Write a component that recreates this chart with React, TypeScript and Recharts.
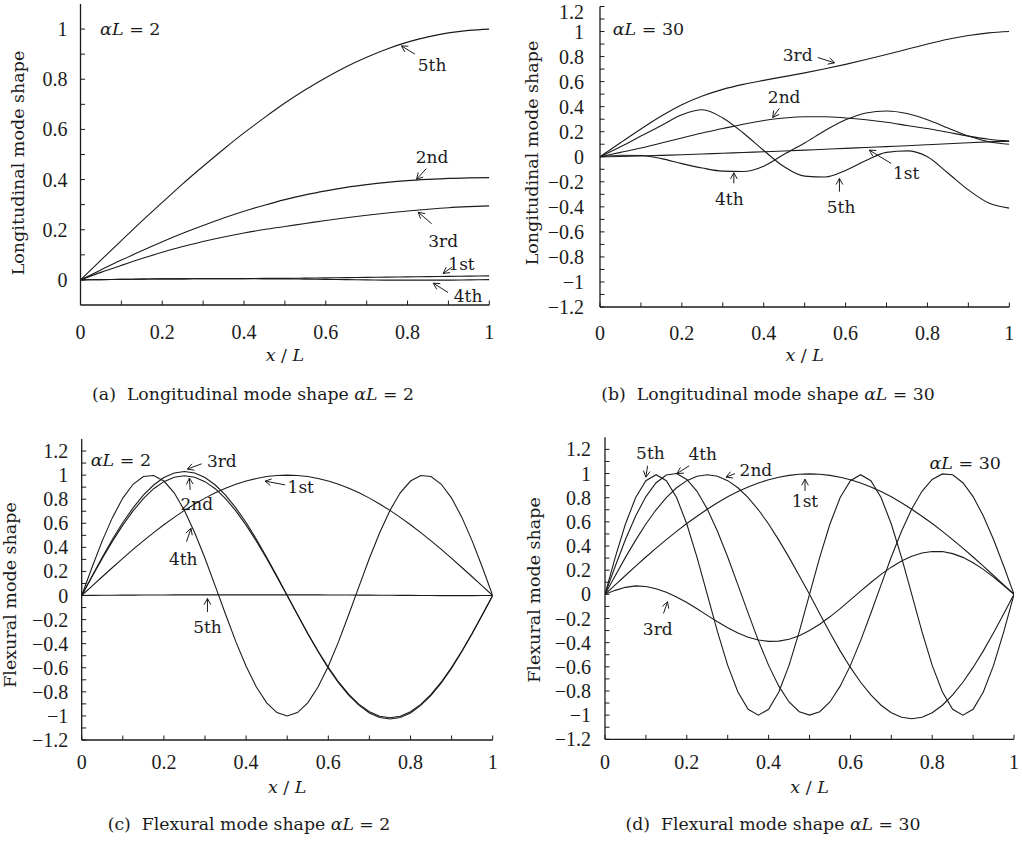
import { LineChart, Line, XAxis, YAxis, ReferenceLine, ReferenceDot } from "recharts";

const INK = "#1b1b1b";
const WORD_FONT = "'DejaVu Serif', serif";
const NUM_FONT = "'Liberation Serif', serif";
const NUM_SIZE = 20;
const TICK_LEN = 4.5;

// sample positions (x/L)
const X_COARSE = [0, 0.05, 0.1, 0.15, 0.2, 0.25, 0.3, 0.35, 0.4, 0.45, 0.5, 0.55, 0.6, 0.65, 0.7, 0.75, 0.8, 0.85, 0.9, 0.95, 1];
const X_FINE = [
  0, 0.025, 0.05, 0.075, 0.1, 0.125, 0.15, 0.175, 0.2, 0.225, 0.25, 0.275, 0.3, 0.325, 0.35, 0.375, 0.4, 0.425, 0.45, 0.475,
  0.5, 0.525, 0.55, 0.575, 0.6, 0.625, 0.65, 0.675, 0.7, 0.725, 0.75, 0.775, 0.8, 0.825, 0.85, 0.875, 0.9, 0.925, 0.95, 0.975, 1,
];

// tick positions
const X_TICKS = [0, 0.1, 0.2, 0.3, 0.4, 0.5, 0.6, 0.7, 0.8, 0.9, 1];
const Y_TICKS_A = [0, 0.1, 0.2, 0.3, 0.4, 0.5, 0.6, 0.7, 0.8, 0.9, 1];
const Y_TICKS_FULL = [
  -1.2, -1.1, -1, -0.9, -0.8, -0.7, -0.6, -0.5, -0.4, -0.3, -0.2, -0.1, 0,
  0.1, 0.2, 0.3, 0.4, 0.5, 0.6, 0.7, 0.8, 0.9, 1, 1.1, 1.2,
];

// (a) longitudinal, alpha L = 2
const A_1ST = [0, 0.001, 0.002, 0.003, 0.004, 0.004, 0.005, 0.005, 0.005, 0.006, 0.006, 0.007, 0.008, 0.009, 0.01, 0.011, 0.012, 0.013, 0.014, 0.015, 0.016];
const A_2ND = [0, 0.04, 0.079, 0.116, 0.152, 0.186, 0.217, 0.247, 0.274, 0.298, 0.32, 0.339, 0.355, 0.369, 0.38, 0.389, 0.396, 0.401, 0.405, 0.407, 0.408];
const A_3RD = [0, 0.03, 0.058, 0.085, 0.11, 0.133, 0.153, 0.171, 0.187, 0.201, 0.213, 0.225, 0.237, 0.248, 0.258, 0.267, 0.275, 0.282, 0.288, 0.292, 0.295];
const A_4TH = [0, 0.001, 0.002, 0.003, 0.004, 0.004, 0.005, 0.005, 0.005, 0.004, 0.004, 0.003, 0.002, 0.001, 0, -0.001, -0.001, -0.001, -0.001, 0, 0.001];
const A_5TH = [0, 0.079, 0.157, 0.234, 0.309, 0.383, 0.453, 0.521, 0.586, 0.647, 0.705, 0.758, 0.806, 0.85, 0.888, 0.921, 0.948, 0.969, 0.985, 0.995, 1];

// (b) longitudinal, alpha L = 30
const B_1ST = [0, 0.002, 0.006, 0.011, 0.016, 0.022, 0.028, 0.034, 0.04, 0.046, 0.053, 0.06, 0.067, 0.074, 0.081, 0.088, 0.096, 0.104, 0.112, 0.119, 0.125];
const B_2ND = [0, 0.035, 0.07, 0.11, 0.15, 0.19, 0.225, 0.26, 0.29, 0.31, 0.32, 0.32, 0.31, 0.295, 0.275, 0.25, 0.225, 0.195, 0.165, 0.14, 0.125];
const B_3RD = [0, 0.112, 0.222, 0.325, 0.415, 0.485, 0.538, 0.578, 0.61, 0.64, 0.67, 0.703, 0.738, 0.776, 0.816, 0.858, 0.9, 0.938, 0.968, 0.989, 1];
const B_4TH = [0, 0.012, 0.01, -0.015, -0.055, -0.09, -0.115, -0.118, -0.075, 0.02, 0.11, 0.21, 0.295, 0.35, 0.365, 0.345, 0.295, 0.23, 0.165, 0.12, 0.1];
const B_5TH = [0, 0.08, 0.165, 0.25, 0.335, 0.375, 0.31, 0.19, 0.05, -0.08, -0.155, -0.162, -0.11, -0.03, 0.035, 0.047, 0, -0.13, -0.265, -0.37, -0.41];

// (c) flexural, alpha L = 2
const C_1ST = [
  0, 0.078, 0.156, 0.233, 0.309, 0.383, 0.454, 0.522, 0.588, 0.649, 0.707, 0.76, 0.809, 0.853, 0.891, 0.924, 0.951, 0.972, 0.988, 0.997,
  1, 0.997, 0.988, 0.972, 0.951, 0.924, 0.891, 0.853, 0.809, 0.76, 0.707, 0.649, 0.588, 0.522, 0.454, 0.383, 0.309, 0.233, 0.156, 0.078, 0,
];
const C_2ND = [
  0, 0.155, 0.307, 0.452, 0.585, 0.703, 0.805, 0.887, 0.946, 0.983, 0.995, 0.983, 0.946, 0.887, 0.805, 0.703, 0.585, 0.452, 0.307, 0.155,
  0, -0.158, -0.314, -0.461, -0.597, -0.718, -0.821, -0.904, -0.965, -1.003, -1.015, -1.003, -0.965, -0.904, -0.821, -0.718, -0.597, -0.461, -0.314, -0.158, 0,
];
const C_3RD = [
  0, 0.161, 0.318, 0.468, 0.606, 0.728, 0.833, 0.918, 0.98, 1.018, 1.03, 1.018, 0.98, 0.918, 0.833, 0.728, 0.606, 0.468, 0.318, 0.161,
  0, -0.16, -0.317, -0.465, -0.603, -0.725, -0.829, -0.913, -0.975, -1.013, -1.025, -1.013, -0.975, -0.913, -0.829, -0.725, -0.603, -0.465, -0.317, -0.16, 0,
];
const C_4TH = [
  0, 0.233, 0.454, 0.649, 0.809, 0.924, 0.988, 0.997, 0.951, 0.853, 0.707, 0.522, 0.309, 0.078, -0.156, -0.383, -0.588, -0.76, -0.891, -0.972,
  -1, -0.972, -0.891, -0.76, -0.588, -0.383, -0.156, 0.078, 0.309, 0.522, 0.707, 0.853, 0.951, 0.997, 0.988, 0.924, 0.809, 0.649, 0.454, 0.233, 0,
];
const C_5TH = [
  0, 0.001, 0.002, 0.002, 0.003, 0.003, 0.004, 0.004, 0.004, 0.005, 0.005, 0.005, 0.005, 0.005, 0.005, 0.005, 0.005, 0.005, 0.005, 0.005,
  0.005, 0.005, 0.005, 0.005, 0.004, 0.004, 0.004, 0.003, 0.003, 0.002, 0.002, 0.001, 0.001, 0, 0, -0.001, -0.001, -0.001, -0.001, 0, 0,
];

// (d) flexural, alpha L = 30
const D_1ST = [
  0, 0.078, 0.156, 0.233, 0.309, 0.382, 0.453, 0.521, 0.586, 0.647, 0.705, 0.758, 0.807, 0.851, 0.889, 0.921, 0.948, 0.969, 0.985, 0.994,
  0.997, 0.994, 0.985, 0.969, 0.948, 0.921, 0.889, 0.851, 0.807, 0.758, 0.705, 0.647, 0.586, 0.521, 0.453, 0.382, 0.309, 0.233, 0.156, 0.078, 0,
];
const D_2ND = [
  0, 0.154, 0.306, 0.449, 0.582, 0.7, 0.801, 0.882, 0.941, 0.978, 0.99, 0.978, 0.941, 0.882, 0.801, 0.7, 0.582, 0.449, 0.306, 0.154,
  0, -0.161, -0.318, -0.468, -0.605, -0.728, -0.833, -0.918, -0.98, -1.017, -1.03, -1.017, -0.98, -0.918, -0.833, -0.728, -0.605, -0.468, -0.318, -0.161, 0,
];
const D_3RD = [
  0, 0.033, 0.058, 0.07, 0.065, 0.047, 0.018, -0.022, -0.068, -0.12, -0.174, -0.227, -0.277, -0.32, -0.355, -0.378, -0.389, -0.387, -0.372, -0.343,
  -0.3, -0.248, -0.186, -0.118, -0.046, 0.027, 0.098, 0.165, 0.225, 0.276, 0.315, 0.342, 0.354, 0.354, 0.337, 0.306, 0.262, 0.207, 0.143, 0.073, 0,
];
const D_4TH = [
  0, 0.233, 0.454, 0.649, 0.809, 0.924, 0.988, 1.0, 0.951, 0.853, 0.707, 0.522, 0.309, 0.078, -0.156, -0.383, -0.588, -0.76, -0.891, -0.972,
  -1, -0.972, -0.891, -0.76, -0.588, -0.383, -0.156, 0.078, 0.309, 0.522, 0.707, 0.853, 0.951, 0.997, 0.99, 0.924, 0.809, 0.649, 0.454, 0.233, 0,
];
const D_5TH = [
  0, 0.306, 0.582, 0.801, 0.941, 0.99, 0.941, 0.801, 0.582, 0.306, 0, -0.309, -0.588, -0.809, -0.951, -1, -0.951, -0.809, -0.588, -0.309,
  0, 0.306, 0.582, 0.801, 0.941, 0.99, 0.941, 0.801, 0.582, 0.306, 0, -0.309, -0.588, -0.809, -0.951, -1, -0.951, -0.809, -0.588, -0.309, 0,
];

type Pt = [number, number];
interface Arrow { from: Pt; to: Pt }
interface Note { at: Pt; text: string }

// annotation positions in data units
const A_NOTES: Note[] = [
  { at: [0.86, 0.857], text: "5th" },
  { at: [0.86, 0.49], text: "2nd" },
  { at: [0.887, 0.157], text: "3rd" },
  { at: [0.932, 0.064], text: "1st" },
  { at: [0.948, -0.063], text: "4th" },
];
const A_ARROWS: Arrow[] = [
  { from: [0.818, 0.9], to: [0.785, 0.933] },
  { from: [0.846, 0.444], to: [0.822, 0.401] },
  { from: [0.859, 0.224], to: [0.826, 0.27] },
  { from: [0.908, 0.05], to: [0.887, 0.026] },
  { from: [0.899, -0.05], to: [0.863, -0.013] },
];
const B_NOTES: Note[] = [
  { at: [0.483, 0.81], text: "3rd" },
  { at: [0.45, 0.479], text: "2nd" },
  { at: [0.748, -0.128], text: "1st" },
  { at: [0.316, -0.34], text: "4th" },
  { at: [0.589, -0.404], text: "5th" },
];
const B_ARROWS: Arrow[] = [
  { from: [0.532, 0.793], to: [0.573, 0.75] },
  { from: [0.438, 0.386], to: [0.422, 0.314] },
  { from: [0.711, -0.053], to: [0.658, 0.053] },
  { from: [0.327, -0.212], to: [0.327, -0.128] },
  { from: [0.585, -0.279], to: [0.585, -0.173] },
];
const C_NOTES: Note[] = [
  { at: [0.341, 1.12], text: "3rd" },
  { at: [0.28, 0.758], text: "2nd" },
  { at: [0.533, 0.9], text: "1st" },
  { at: [0.247, 0.3], text: "4th" },
  { at: [0.306, -0.262], text: "5th" },
];
const C_ARROWS: Arrow[] = [
  { from: [0.292, 1.094], to: [0.257, 1.05] },
  { from: [0.264, 0.877], to: [0.262, 0.975] },
  { from: [0.495, 0.919], to: [0.446, 0.95] },
  { from: [0.255, 0.447], to: [0.266, 0.558] },
  { from: [0.306, -0.137], to: [0.306, -0.025] },
];
const D_NOTES: Note[] = [
  { at: [0.111, 1.167], text: "5th" },
  { at: [0.239, 1.16], text: "4th" },
  { at: [0.369, 1.03], text: "2nd" },
  { at: [0.489, 0.77], text: "1st" },
  { at: [0.129, -0.29], text: "3rd" },
];
const D_ARROWS: Arrow[] = [
  { from: [0.104, 1.064], to: [0.1, 0.97] },
  { from: [0.206, 1.064], to: [0.176, 1.0] },
  { from: [0.318, 1.0], to: [0.296, 0.97] },
  { from: [0.489, 0.856], to: [0.489, 0.953] },
  { from: [0.143, -0.158], to: [0.153, -0.061] },
];

const fmt = (v: number) => String(Math.round(v * 10) / 10).replace("-", "\u2212");
const isMajor = (v: number) => Math.round(v * 10) % 2 === 0;

function bottomTick(gap: number) {
  return (p: any) => {
    const v = p.payload.value;
    return (
      <g>
        <line x1={p.x} y1={p.y} x2={p.x} y2={p.y - TICK_LEN} stroke={INK} />
        {isMajor(v) && (
          <text x={p.x} y={p.y + gap} textAnchor="middle" dominantBaseline="central" fontFamily={NUM_FONT} fontSize={NUM_SIZE} fill={INK}>
            {fmt(v)}
          </text>
        )}
      </g>
    );
  };
}
function leftTick(gap: number) {
  return (p: any) => {
    const v = p.payload.value;
    // keep the top label inside the page edge
    const ty = Math.max(p.y, 11.5);
    return (
      <g>
        <line x1={p.x} y1={p.y} x2={p.x + TICK_LEN} y2={p.y} stroke={INK} />
        {isMajor(v) && (
          <text x={p.x - gap} y={ty} textAnchor="end" dominantBaseline="central" fontFamily={NUM_FONT} fontSize={NUM_SIZE} fill={INK}>
            {fmt(v)}
          </text>
        )}
      </g>
    );
  };
}
const topTick = (p: any) => <line x1={p.x} y1={p.y} x2={p.x} y2={p.y + TICK_LEN} stroke={INK} />;
const rightTick = (p: any) => <line x1={p.x} y1={p.y} x2={p.x - TICK_LEN} y2={p.y} stroke={INK} />;

const arrowShape = (p: any) => {
  const { x1, y1, x2, y2 } = p;
  const ang = Math.atan2(y2 - y1, x2 - x1);
  const len = 7;
  const spread = 0.5;
  const ax = x2 - len * Math.cos(ang - spread);
  const ay = y2 - len * Math.sin(ang - spread);
  const bx = x2 - len * Math.cos(ang + spread);
  const by = y2 - len * Math.sin(ang + spread);
  return (
    <g>
      <line x1={x1} y1={y1} x2={x2} y2={y2} stroke={INK} strokeWidth={1} />
      <polyline points={`${ax},${ay} ${x2},${y2} ${bx},${by}`} fill="none" stroke={INK} strokeWidth={1} />
    </g>
  );
};

interface PanelSpec {
  left: number;
  top: number;
  width: number;
  height: number;
  margin: { top: number; right: number; bottom: number; left: number };
  yAxisWidth: number;
  xAxisHeight: number;
  xs: number[];
  series: { key: string; values: number[] }[];
  curve: "monotone" | "linear";
  yDomain: [number, number];
  yTicks: number[];
  notes: Note[];
  arrows: Arrow[];
  tag: { at: Pt; anchor: "start" | "end"; value: string };
  yTitle: string;
  yTitleX: number;
  yTitleY: number;
  xTitleY: number;
  xTickGap: number;
  yTickGap: number;
}

function Panel({ spec }: { spec: PanelSpec }) {
  const rows = spec.xs.map((x, i) => {
    const r: Record<string, number> = { x };
    spec.series.forEach((s) => {
      r[s.key] = s.values[i];
    });
    return r;
  });
  const plotLeft = spec.margin.left + spec.yAxisWidth;
  const plotW = spec.width - plotLeft - spec.margin.right;
  const midX = plotLeft + plotW / 2;

  return (
    <div style={{ position: "absolute", left: spec.left, top: spec.top }}>
      <LineChart width={spec.width} height={spec.height} data={rows} margin={spec.margin}>
        <XAxis
          dataKey="x"
          type="number"
          domain={[0, 1]}
          allowDataOverflow
          ticks={X_TICKS}
          interval={0}
          tickSize={0}
          tickMargin={0}
          height={spec.xAxisHeight}
          axisLine={{ stroke: INK, strokeWidth: 1.3 }}
          tickLine={false}
          tick={bottomTick(spec.xTickGap)}
          label={() => (
            <text x={midX} y={spec.xTitleY} textAnchor="middle" dominantBaseline="central" fontFamily={WORD_FONT} fontSize={17.5} fill={INK}>
              <tspan fontStyle="italic">x</tspan> / <tspan fontStyle="italic">L</tspan>
            </text>
          )}
        />
        <XAxis
          xAxisId="top"
          orientation="top"
          dataKey="x"
          type="number"
          domain={[0, 1]}
          allowDataOverflow
          ticks={X_TICKS}
          interval={0}
          tickSize={0}
          tickMargin={0}
          height={0}
          axisLine={{ stroke: INK, strokeWidth: 1.3 }}
          tickLine={false}
          tick={topTick}
        />
        <YAxis
          type="number"
          domain={spec.yDomain}
          allowDataOverflow
          ticks={spec.yTicks}
          interval={0}
          tickSize={0}
          tickMargin={0}
          width={spec.yAxisWidth}
          axisLine={{ stroke: INK, strokeWidth: 1.3 }}
          tickLine={false}
          tick={leftTick(spec.yTickGap)}
          label={() => (
            <text
              x={spec.yTitleX}
              y={spec.yTitleY}
              transform={`rotate(-90 ${spec.yTitleX} ${spec.yTitleY})`}
              textAnchor="middle"
              dominantBaseline="central"
              fontFamily={WORD_FONT}
              fontSize={17.5}
              fill={INK}
            >
              {spec.yTitle}
            </text>
          )}
        />
        <YAxis
          yAxisId="right"
          orientation="right"
          type="number"
          domain={spec.yDomain}
          allowDataOverflow
          ticks={spec.yTicks}
          interval={0}
          tickSize={0}
          tickMargin={0}
          width={0}
          axisLine={{ stroke: INK, strokeWidth: 1.3 }}
          tickLine={false}
          tick={rightTick}
        />
        {spec.series.map((s) => (
          <Line
            key={s.key}
            dataKey={s.key}
            type={spec.curve}
            stroke={INK}
            strokeWidth={1.1}
            dot={false}
            activeDot={false}
            isAnimationActive={false}
          />
        ))}
        {spec.arrows.map((a, i) => (
          <ReferenceLine
            key={`arrow-${i}`}
            segment={[
              { x: a.from[0], y: a.from[1] },
              { x: a.to[0], y: a.to[1] },
            ]}
            ifOverflow="visible"
            shape={arrowShape}
          />
        ))}
        {spec.notes.map((n, i) => (
          <ReferenceDot
            key={`note-${i}`}
            x={n.at[0]}
            y={n.at[1]}
            r={0}
            ifOverflow="visible"
            shape={(p: any) => (
              <text x={p.cx} y={p.cy} textAnchor="middle" dominantBaseline="central" fontFamily={WORD_FONT} fontSize={17} fill={INK}>
                {n.text}
              </text>
            )}
          />
        ))}
        <ReferenceDot
          x={spec.tag.at[0]}
          y={spec.tag.at[1]}
          r={0}
          ifOverflow="visible"
          shape={(p: any) => (
            <text x={p.cx} y={p.cy} textAnchor={spec.tag.anchor} dominantBaseline="central" fontFamily={WORD_FONT} fontSize={17.5} fill={INK}>
              <tspan fontStyle="italic">αL</tspan>
              {` = ${spec.tag.value}`}
            </text>
          )}
        />
      </LineChart>
    </div>
  );
}

const PANELS: PanelSpec[] = [
  {
    left: 0, top: 0, width: 511, height: 400,
    margin: { top: 4, right: 21.7, bottom: 45, left: 0 },
    yAxisWidth: 80.5, xAxisHeight: 50,
    xs: X_COARSE,
    series: [
      { key: "1st", values: A_1ST },
      { key: "2nd", values: A_2ND },
      { key: "3rd", values: A_3RD },
      { key: "4th", values: A_4TH },
      { key: "5th", values: A_5TH },
    ],
    curve: "monotone",
    yDomain: [-0.1, 1.1], yTicks: Y_TICKS_A,
    notes: A_NOTES, arrows: A_ARROWS,
    tag: { at: [0.048, 1.0], anchor: "start", value: "2" },
    yTitle: "Longitudinal mode shape", yTitleX: 18.3, yTitleY: 163,
    xTitleY: 355, xTickGap: 27, yTickGap: 13,
  },
  {
    left: 511, top: 0, width: 511, height: 400,
    margin: { top: 6.5, right: 12.7, bottom: 43, left: 0 },
    yAxisWidth: 89, xAxisHeight: 50,
    xs: X_COARSE,
    series: [
      { key: "1st", values: B_1ST },
      { key: "2nd", values: B_2ND },
      { key: "3rd", values: B_3RD },
      { key: "4th", values: B_4TH },
      { key: "5th", values: B_5TH },
    ],
    curve: "monotone",
    yDomain: [-1.2, 1.2], yTicks: Y_TICKS_FULL,
    notes: B_NOTES, arrows: B_ARROWS,
    tag: { at: [0.031, 1.017], anchor: "start", value: "30" },
    yTitle: "Longitudinal mode shape", yTitleX: 20.7, yTitleY: 153,
    xTitleY: 355, xTickGap: 26, yTickGap: 16,
  },
  {
    left: 0, top: 410, width: 511, height: 400,
    margin: { top: 29, right: 18.3, bottom: 20, left: 0 },
    yAxisWidth: 81.7, xAxisHeight: 50,
    xs: X_FINE,
    series: [
      { key: "1st", values: C_1ST },
      { key: "2nd", values: C_2ND },
      { key: "3rd", values: C_3RD },
      { key: "4th", values: C_4TH },
      { key: "5th", values: C_5TH },
    ],
    curve: "linear",
    yDomain: [-1.2, 1.3], yTicks: Y_TICKS_FULL,
    notes: C_NOTES, arrows: C_ARROWS,
    tag: { at: [0.022, 1.128], anchor: "start", value: "2" },
    yTitle: "Flexural mode shape", yTitleX: 10, yTitleY: 185,
    xTitleY: 376.7, xTickGap: 21.7, yTickGap: 13.5,
  },
  {
    left: 511, top: 410, width: 511, height: 400,
    margin: { top: 27.3, right: 8, bottom: 20.7, left: 0 },
    yAxisWidth: 94, xAxisHeight: 50,
    xs: X_FINE,
    series: [
      { key: "1st", values: D_1ST },
      { key: "2nd", values: D_2ND },
      { key: "3rd", values: D_3RD },
      { key: "4th", values: D_4TH },
      { key: "5th", values: D_5TH },
    ],
    curve: "linear",
    yDomain: [-1.2, 1.3], yTicks: Y_TICKS_FULL,
    notes: D_NOTES, arrows: D_ARROWS,
    tag: { at: [0.968, 1.09], anchor: "end", value: "30" },
    yTitle: "Flexural mode shape", yTitleX: 23.3, yTitleY: 180,
    xTitleY: 376.7, xTickGap: 22.4, yTickGap: 14,
  },
];

const CAPTIONS = [
  { x: 253, y: 395, tag: "(a)", text: "Longitudinal mode shape", value: "2" },
  { x: 768, y: 395, tag: "(b)", text: "Longitudinal mode shape", value: "30" },
  { x: 249, y: 825, tag: "(c)", text: "Flexural mode shape", value: "2" },
  { x: 773, y: 825, tag: "(d)", text: "Flexural mode shape", value: "30" },
];

export default function App() {
  return (
    <div style={{ position: "absolute", left: 0, top: 0, width: 1022, height: 842, background: "#fff", overflow: "hidden" }}>
      {PANELS.map((p, i) => (
        <Panel key={i} spec={p} />
      ))}
      {CAPTIONS.map((c) => (
        <div
          key={c.tag}
          style={{
            position: "absolute",
            left: c.x,
            top: c.y,
            transform: "translate(-50%, -50%)",
            whiteSpace: "nowrap",
            fontFamily: WORD_FONT,
            fontSize: 17.3,
            color: INK,
            lineHeight: 1,
          }}
        >
          {c.tag}
          {"\u00a0\u00a0"}
          {c.text} <i>αL</i> = {c.value}
        </div>
      ))}
    </div>
  );
}
